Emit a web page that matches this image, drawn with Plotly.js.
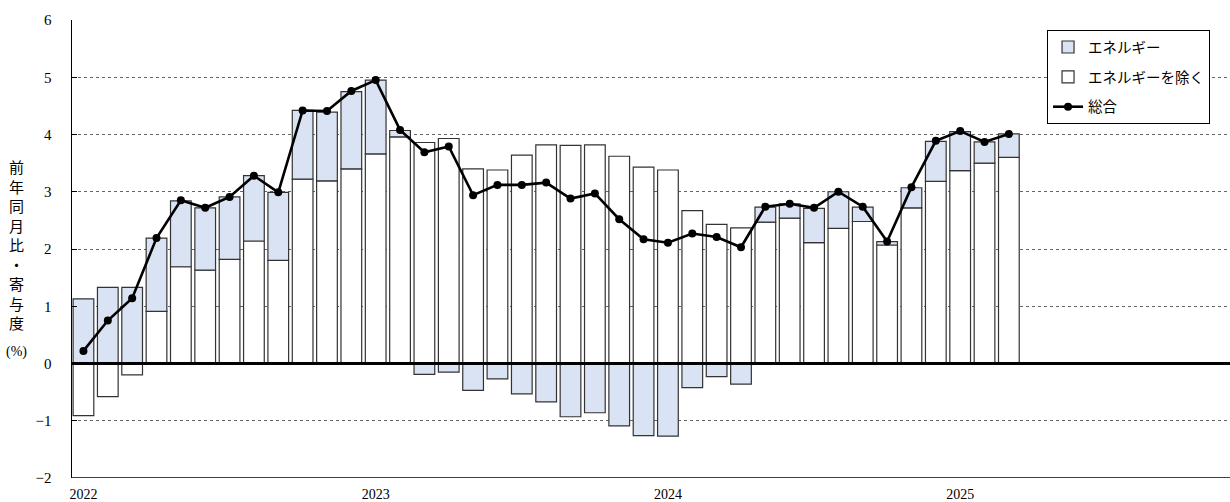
<!DOCTYPE html>
<html><head><meta charset="utf-8">
<script src="https://cdn.plot.ly/plotly-3.0.1.min.js"></script>
<style>html,body{margin:0;padding:0;background:#fff;}#chart{width:1230px;height:502px;}</style>
</head><body><div id="chart"></div>
<script>
const months = ['2022-01','2022-02','2022-03','2022-04','2022-05','2022-06','2022-07','2022-08','2022-09','2022-10','2022-11','2022-12',
'2023-01','2023-02','2023-03','2023-04','2023-05','2023-06','2023-07','2023-08','2023-09','2023-10','2023-11','2023-12',
'2024-01','2024-02','2024-03','2024-04','2024-05','2024-06','2024-07','2024-08','2024-09','2024-10','2024-11','2024-12',
'2025-01','2025-02','2025-03'];
const exEnergy = [-0.91,-0.58,-0.20,0.91,1.69,1.63,1.82,2.14,1.80,3.22,3.19,3.40,3.66,3.96,3.86,3.93,3.40,3.38,3.64,3.82,3.81,3.82,3.62,3.43,3.38,2.67,2.43,2.37,2.47,2.54,2.11,2.36,2.48,2.07,2.72,3.18,3.37,3.50,3.60];
const energy = [1.13,1.33,1.33,1.28,1.15,1.09,1.09,1.14,1.19,1.20,1.20,1.35,1.29,0.11,-0.19,-0.15,-0.47,-0.27,-0.53,-0.67,-0.93,-0.86,-1.09,-1.26,-1.27,-0.42,-0.23,-0.36,0.26,0.25,0.60,0.64,0.25,0.06,0.35,0.70,0.68,0.37,0.41];
const total = [0.22,0.75,1.14,2.19,2.85,2.72,2.91,3.28,2.99,4.42,4.41,4.76,4.95,4.08,3.69,3.79,2.94,3.12,3.12,3.16,2.88,2.97,2.52,2.17,2.11,2.27,2.21,2.03,2.74,2.79,2.72,3.00,2.74,2.13,3.08,3.89,4.06,3.87,4.01];
const yearTickVals = ['2022-01','2023-01','2024-01','2025-01'];
const yearTickText = ['2022','2023','2024','2025'];
const yTicks = [-2,-1,0,1,2,3,4,5,6];
const gridTicks = [-1,1,2,3,4,5];
const names = {energy:'エネルギー', exEnergy:'エネルギーを除く', total:'総合'};

const FONT = 'Liberation Serif, "Noto Sans CJK JP", serif';
const JFONT = '"Noto Sans CJK JP", sans-serif';

const traces = [
  {type:'bar', x:months, y:exEnergy, name:names.exEnergy, legendrank:2, legendgroup:'b',
   marker:{color:'#ffffff', line:{color:'#333333', width:1.2}}},
  {type:'bar', x:months, y:energy, name:names.energy, legendrank:1, legendgroup:'a',
   marker:{color:'#dae3f3', line:{color:'#333333', width:1.2}}},
  {type:'scatter', mode:'lines+markers', x:months, y:total, yaxis:'y2', name:names.total, legendrank:3, legendgroup:'c',
   line:{color:'#000', width:2.6}, marker:{color:'#000', size:8, symbol:'circle'}}
];

const layout = {
  width:1230, height:502,
  margin:{l:72, r:0, t:20, b:24},
  paper_bgcolor:'#fff', plot_bgcolor:'rgba(0,0,0,0)',
  barmode:'relative', bargap:0.15,
  showlegend:true,
  legend:{x:0.842, y:0.978, xanchor:'left', yanchor:'top', bgcolor:'#fff',
    bordercolor:'#000', borderwidth:1, traceorder:'grouped', tracegroupgap:8,
    font:{family:JFONT, size:14.5, color:'#000'}, itemwidth:30, entrywidth:172},
  xaxis:{type:'category', range:[-0.47, 47.08], tickmode:'array', tickvals:yearTickVals, ticktext:yearTickText,
    showgrid:false, zeroline:false, showline:false, ticks:'', ticklabelstandoff:6,
    tickfont:{family:FONT, size:14, color:'#000'}},
  yaxis:{range:[-2,6], tickmode:'array', tickvals:yTicks, showgrid:false, zeroline:false,
    showline:true, linecolor:'#000', linewidth:1.5, ticks:'inside', ticklen:5, tickcolor:'#000',
    ticklabelstandoff:16, tickfont:{family:FONT, size:15, color:'#000'}},
  yaxis2:{overlaying:'y', side:'left', range:[-2,6], tickmode:'array', tickvals:gridTicks, showgrid:true,
    griddash:'dot', gridcolor:'#666', gridwidth:1, showticklabels:false, zeroline:false, showline:false, ticks:''},
  shapes:[
    {type:'line', xref:'paper', x0:0, x1:1, yref:'y', y0:0, y1:0, line:{color:'#000', width:3}, layer:'above'},
    {type:'line', xref:'paper', x0:0, x1:1, yref:'y', y0:-2, y1:-2, line:{color:'#000', width:1.5}, layer:'above'}
  ],
  annotations:[
    {xref:'paper', yref:'paper', x:-0.0475, y:0.51, xanchor:'center', yanchor:'middle', showarrow:false,
     text:'前<br>年<br>同<br>月<br>比<br>・<br>寄<br>与<br>度', font:{family:JFONT, size:15, color:'#000'}},
    {xref:'paper', yref:'paper', x:-0.0475, y:0.2747, xanchor:'center', yanchor:'middle', showarrow:false,
     text:'(%)', font:{family:FONT, size:14, color:'#000'}}
  ]
};
Plotly.newPlot('chart', traces, layout, {displayModeBar:false, staticPlot:true});
</script></body></html>
